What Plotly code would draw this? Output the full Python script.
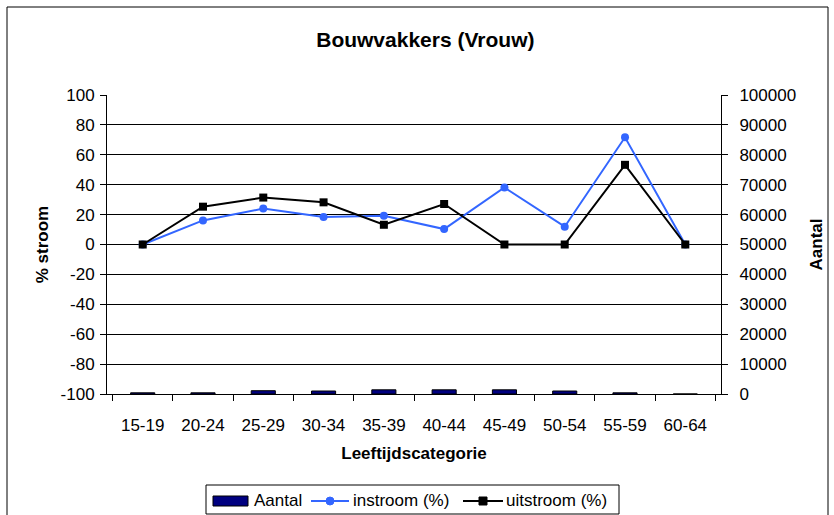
import plotly.graph_objects as go

categories = ["15-19", "20-24", "25-29", "30-34", "35-39", "40-44", "45-49", "50-54", "55-59", "60-64"]
aantal = [400, 400, 1100, 1000, 1400, 1400, 1400, 1000, 400, 0]
instroom = [0, 16.1, 24.0, 18.4, 19.3, 10.3, 38.1, 11.9, 71.7, 0]
uitstroom = [0, 25.3, 31.4, 28.2, 13.2, 27.1, 0, 0, 53.3, 0]

left_ticks = list(range(-100, 101, 20))
left_ticktext = [str(v) for v in left_ticks]
right_ticks = list(range(0, 100001, 10000))
right_ticktext = [str(v) for v in right_ticks]

series_names = ["Aantal", "instroom (%)", "uitstroom (%)"]
colors = {"Aantal": "#000080", "instroom (%)": "#3366FF", "uitstroom (%)": "#000000"}

FONT = "Liberation Sans, Arial, sans-serif"

# plot area geometry (pixels)
L, R, T, B = 107, 113, 95, 121
W, H = 834, 515
PW, PH = W - L - R, H - T - B


def px(x):
    return (x - L) / PW


def py(y):
    return (H - B - y) / PH


fig = go.Figure()
fig.add_trace(go.Bar(
    x=categories, y=aantal, name=series_names[0], yaxis="y2",
    marker=dict(color=colors["Aantal"], line=dict(color="#000000", width=1)),
    width=0.4, showlegend=False,
))
fig.add_trace(go.Scatter(
    x=categories, y=instroom, name=series_names[1], mode="lines+markers",
    line=dict(color=colors["instroom (%)"], width=2),
    marker=dict(symbol="circle", size=8, color=colors["instroom (%)"]),
    showlegend=False,
))
fig.add_trace(go.Scatter(
    x=categories, y=uitstroom, name=series_names[2], mode="lines+markers",
    line=dict(color=colors["uitstroom (%)"], width=2),
    marker=dict(symbol="square", size=8, color=colors["uitstroom (%)"]),
    showlegend=False,
))

# custom legend (Excel style)
shapes = [
    # outer chart frame
    dict(type="rect", xref="paper", yref="paper", x0=px(7), x1=px(828), y0=py(560), y1=py(7),
         line=dict(color="black", width=1), fillcolor="rgba(0,0,0,0)", layer="below"),
    # legend box
    dict(type="rect", xref="paper", yref="paper", x0=px(206), x1=px(619), y0=py(514), y1=py(485),
         line=dict(color="black", width=1), fillcolor="white", layer="above"),
    # Aantal swatch
    dict(type="rect", xref="paper", yref="paper", x0=px(213), x1=px(248), y0=py(506), y1=py(496),
         line=dict(color="black", width=1), fillcolor=colors["Aantal"], layer="above"),
    # instroom line + marker
    dict(type="line", xref="paper", yref="paper", x0=px(311), x1=px(349), y0=py(501), y1=py(501),
         line=dict(color=colors["instroom (%)"], width=2), layer="above"),
    dict(type="circle", xref="paper", yref="paper", x0=px(326), x1=px(334), y0=py(505), y1=py(497),
         line=dict(color=colors["instroom (%)"], width=1), fillcolor=colors["instroom (%)"], layer="above"),
    # uitstroom line + marker
    dict(type="line", xref="paper", yref="paper", x0=px(463), x1=px(503), y0=py(501), y1=py(501),
         line=dict(color=colors["uitstroom (%)"], width=2), layer="above"),
    dict(type="rect", xref="paper", yref="paper", x0=px(479), x1=px(487), y0=py(505), y1=py(497),
         line=dict(color=colors["uitstroom (%)"], width=1), fillcolor=colors["uitstroom (%)"], layer="above"),
]

annotations = [
    dict(text=series_names[0], x=px(252), y=py(500), xref="paper", yref="paper",
         xanchor="left", yanchor="middle", showarrow=False, font=dict(size=17)),
    dict(text=series_names[1], x=px(351), y=py(500), xref="paper", yref="paper",
         xanchor="left", yanchor="middle", showarrow=False, font=dict(size=17)),
    dict(text=series_names[2], x=px(504), y=py(500), xref="paper", yref="paper",
         xanchor="left", yanchor="middle", showarrow=False, font=dict(size=17)),
]

fig.update_layout(
    width=W, height=H,
    margin=dict(l=L, r=R, t=T, b=B),
    paper_bgcolor="white", plot_bgcolor="white",
    font=dict(family=FONT, size=17, color="black"),
    title=dict(text="<b>Bouwvakkers (Vrouw)</b>", x=0.51, xanchor="center",
               y=1 - 40 / H, yanchor="middle", font=dict(size=21, family=FONT)),
    showlegend=False,
    xaxis=dict(
        type="category", showline=True, linecolor="black", linewidth=1,
        ticks="outside", ticklen=6, tickcolor="black", tickson="boundaries",
        showgrid=False, tickfont=dict(size=17), automargin=False, ticklabelstandoff=16,
        title=dict(text="<b>Leeftijdscategorie</b>", font=dict(size=17), standoff=12),
    ),
    yaxis=dict(
        range=[-100, 100], tickvals=left_ticks, ticktext=left_ticktext, showline=True,
        linecolor="black", linewidth=1, ticks="outside", ticklen=6, tickcolor="black",
        showgrid=True, gridcolor="black", gridwidth=1, zeroline=False,
        tickfont=dict(size=17), automargin=False, ticklabelstandoff=2,
        title=dict(text="<b>% stroom</b>", font=dict(size=17), standoff=7),
    ),
    yaxis2=dict(
        range=[0, 100000], tickvals=right_ticks, ticktext=right_ticktext, overlaying="y",
        side="right", showline=True, linecolor="black", linewidth=1, ticks="outside",
        ticklen=6, tickcolor="black", showgrid=False, zeroline=False,
        tickfont=dict(size=17), automargin=False, ticklabelstandoff=8,
        title=dict(text="<b>Aantal</b>", font=dict(size=17), standoff=14),
    ),
    shapes=shapes,
    annotations=annotations,
)

fig.write_html("out.html", config={"displayModeBar": False},
               post_script="document.body.style.margin='0';document.body.style.overflow='hidden';")
